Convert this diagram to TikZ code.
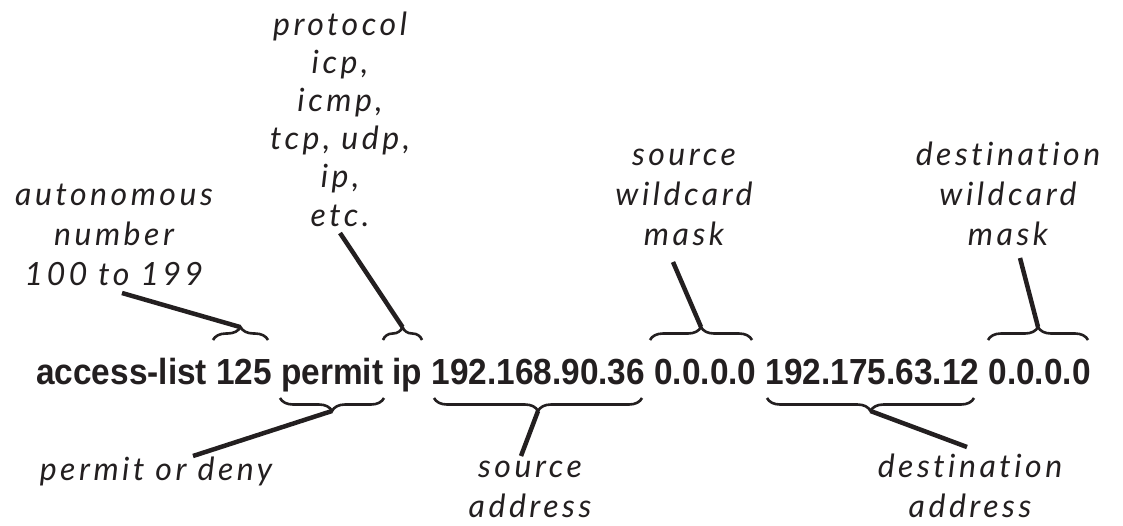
\documentclass[tikz,border=0pt]{standalone}
\usepackage{fontspec}
\usetikzlibrary{decorations.pathreplacing}
\newfontfamily\cmdfont[FakeStretch=0.92]{Liberation Sans Bold}
\newfontfamily\hand[LetterSpace=11,Ligatures={NoCommon}]{Lato Italic}
\definecolor{ink}{HTML}{231F20}
\newcommand{\lines}[1]{\begin{tabular}[t]{@{}c@{}}#1\end{tabular}}
\begin{document}
\begin{tikzpicture}[x=1pt,y=-1pt,
  lbl/.style={font=\hand\fontsize{32}{40}\selectfont, inner sep=0pt, anchor=base, text=ink},
  conn/.style={line width=4.5pt, draw=ink},
  brc/.style={decorate, decoration={brace, amplitude=13pt}, line width=2.6pt, draw=ink}]
\fill[white] (0,0) rectangle (1123,525);
\useasboundingbox (0,0) rectangle (1123,525);

% command line
\node[anchor=base west, inner sep=0pt, text=ink,
      font=\cmdfont\fontsize{36.3}{40}\selectfont] (cmd) at (36,384)
  {access-list 125 permit ip 192.168.90.36 0.0.0.0 192.175.63.12 0.0.0.0};

% upper braces
\draw[brc] (213,340) -- (268,340);
\draw[brc] (383,340) -- (422,340);
\draw[brc] (650,340) -- (752,340);
\draw[brc] (988,340) -- (1088,340);
% lower braces
\draw[brc] (384,398) -- (280,398);
\draw[brc] (642,398) -- (434,398);
\draw[brc] (974,398) -- (767,398);

\coordinate (tipA) at (240,327);
\coordinate (tipB) at (402.5,327);
\coordinate (tipC) at (701,327);
\coordinate (tipD) at (1038,327);
\coordinate (tipE) at (332,411);
\coordinate (tipF) at (538,411);
\coordinate (tipG) at (870.5,411);

% labels
\node[lbl] (auto) at (114,205) {\lines{autonomous\\number\\100 to 199}};
\node[lbl, font=\hand\fontsize{32}{38.2}\selectfont] (proto) at (340,35)
  {\lines{protocol\\icp,\\icmp,\\tcp, udp,\\ip,\\etc.}};
\node[lbl] (swild) at (684,165) {\lines{source\\wildcard\\mask}};
\node[lbl] (dwild) at (1008,165) {\lines{destination\\wildcard\\mask}};
\node[lbl] (perm) at (156,480) {permit or deny};
\node[lbl] (saddr) at (530,477) {\lines{source\\address}};
\node[lbl] (daddr) at (970,477) {\lines{destination\\address}};

\coordinate (autoEnd) at (122,293);
\coordinate (protoEnd) at (340,233);
\coordinate (swildEnd) at (673,262);
\coordinate (dwildEnd) at (1020,258);
\coordinate (permEnd) at (193,456);
\coordinate (saddrEnd) at (521,456);
\coordinate (daddrEnd) at (967,447);

% connectors
\draw[conn] (autoEnd) -- (tipA);
\draw[conn] (protoEnd) -- (tipB);
\draw[conn] (swildEnd) -- (tipC);
\draw[conn] (dwildEnd) -- (tipD);
\draw[conn] (permEnd) -- (tipE);
\draw[conn] (saddrEnd) -- (tipF);
\draw[conn] (daddrEnd) -- (tipG);
\end{tikzpicture}
\end{document}
